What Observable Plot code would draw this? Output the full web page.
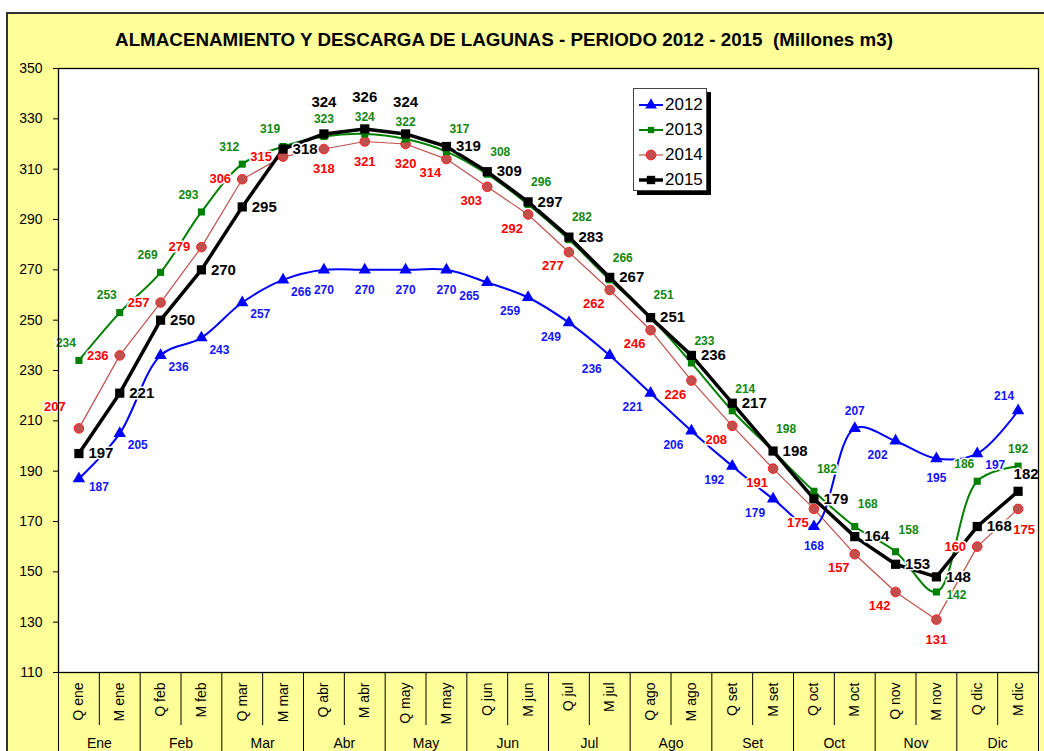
<!DOCTYPE html>
<html>
<head>
<meta charset="utf-8">
<script src="https://cdn.jsdelivr.net/npm/d3@7"></script>
<script src="https://cdn.jsdelivr.net/npm/@observablehq/plot@0.6"></script>
<style>
  body { margin: 0; background: #ffffff; font-family: "Liberation Sans", Arial, sans-serif; }
  #wrap { position: relative; width: 1044px; height: 751px; overflow: hidden; }
  #bg { position: absolute; left: 6px; top: 12px; width: 1060px; height: 760px; background: #ffff99;
        border-left: 2px solid #333; border-top: 2px solid #333; }
  #title { position: absolute; left: 0; width: 1008px; top: 29px; text-align: center;
           font-weight: bold; font-size: 18.8px; color: #000; white-space: pre; }
  #chart { position: absolute; left: 0; top: 0; }
  #legend { position: absolute; left: 633px; top: 88px; width: 74px; height: 103px; background: #fff;
            border: 1px solid #444; box-shadow: 4px 4px 0 #000; box-sizing: border-box; padding-top: 3px; }
  .item { display: flex; align-items: center; height: 25px; font-size: 17px; color: #000; }
  .item svg { margin-left: 5px; margin-right: 2px; }
</style>
</head>
<body>
<div id="wrap">
  <div id="bg"></div>
  <div id="chart"></div>
  <div id="title">ALMACENAMIENTO Y DESCARGA DE LAGUNAS - PERIODO 2012 - 2015  (Millones m3)</div>
  <div id="legend"></div>
</div>
<script>
// ---- data ----
const categories = ["Q ene","M ene","Q feb","M feb","Q mar","M mar","Q abr","M abr","Q may","M may","Q jun","M jun",
                    "Q jul","M jul","Q ago","M ago","Q set","M set","Q oct","M oct","Q nov","M nov","Q dic","M dic"];
const months = ["Ene","Feb","Mar","Abr","May","Jun","Jul","Ago","Set","Oct","Nov","Dic"];
const years = ["2012","2013","2014","2015"];
const v2012 = [187,205,236,243,257,266,270,270,270,270,265,259,249,236,221,206,192,179,168,207,202,195,197,214];
const v2013 = [234,253,269,293,312,319,323,324,322,317,308,296,282,266,251,233,214,198,182,168,158,142,186,192];
const v2014 = [207,236,257,279,306,315,318,321,320,314,303,292,277,262,246,226,208,191,175,157,142,131,160,175];
const v2015 = [197,221,250,270,295,318,324,326,324,319,309,297,283,267,251,236,217,198,179,164,153,148,168,182];
const yTicks = [110,130,150,170,190,210,230,250,270,290,310,330,350];

// label placement group derived from the shape of each series (above/below/side of the curve)
function group(vals, i) {
  const n = vals.length;
  if (i === 0) return "first";
  if (i === n - 1) return "last";
  const d = vals[i + 1] - vals[i - 1];
  if (vals[i] > vals[i - 1] && vals[i] > vals[i + 1] && Math.abs(d) >= 10) return "peak";
  if (vals[i] < vals[i - 1] && vals[i] < vals[i + 1] && Math.abs(d) >= 10) return "low";
  if (Math.abs(d) < 10) return "flat";
  return d > 0 ? "rise" : "fall";
}
const rows = vals => vals.map((v, i) => ({pos: i + 0.5, v, grp: group(vals, i)}));
const r2012 = rows(v2012), r2013 = rows(v2013), r2014 = rows(v2014), r2015 = rows(v2015);

const halo = {stroke: "white", strokeWidth: 3, paintOrder: "stroke", fontWeight: "bold"};
function labels(data, offsets, common) {
  return Object.entries(offsets).map(([g, off]) =>
    Plot.text(data.filter(d => d.grp === g), {x: "pos", y: "v", text: "v", ...halo, ...common, ...off}));
}
const off2012 = {first: {dx: 20, dy: 8}, rise: {dx: 18, dy: 12}, fall: {dx: -18, dy: 14}, flat: {dx: 0, dy: 20},
                 peak: {dx: 0, dy: -17}, low: {dx: 0, dy: 20}, last: {dx: -14, dy: -15}};
const off2013 = {first: {dx: -13, dy: -17}, rise: {dx: -13, dy: -17}, fall: {dx: 13, dy: -22}, flat: {dx: 0, dy: -17},
                 peak: {dx: 0, dy: -17}, low: {dx: 20, dy: 3}, last: {dx: 0, dy: -17}};
const off2014 = {first: {dx: -24, dy: -22}, rise: {dx: -22, dy: 0}, fall: {dx: -16, dy: 14}, flat: {dx: 0, dy: 20},
                 peak: {dx: 0, dy: 20}, low: {dx: 0, dy: 20}, last: {dx: 6, dy: 21}};
const off2015 = {first: {dx: 22, dy: 0}, rise: {dx: 22, dy: 0}, fall: {dx: 22, dy: 0}, flat: {dx: 0, dy: -32},
                 peak: {dx: 0, dy: -32}, low: {dx: 22, dy: 0}, last: {dx: 8, dy: -17}};

const chart = Plot.plot({
  width: 1044, height: 751,
  marginLeft: 58, marginRight: 6, marginTop: 68, marginBottom: 79,
  style: {background: "transparent", fontFamily: "'Liberation Sans', Arial, sans-serif", color: "#000", overflow: "visible"},
  x: {type: "linear", domain: [0, 24], axis: null},
  y: {domain: [110, 350], axis: null},
  marks: [
    Plot.frame({fill: "white"}),
    Plot.axisY({ticks: yTicks, tickSize: 5, tickPadding: 11, fontSize: 14, label: null, stroke: "#000"}),
    // separators inside a month
    Plot.axisX({ticks: d3.range(1, 24, 2), tickSize: 53, tickFormat: () => "", label: null, stroke: "#000"}),
    // month boundaries
    Plot.axisX({ticks: d3.range(0, 25, 2), tickSize: 80, tickFormat: () => "", label: null, stroke: "#000"}),
    // category labels
    Plot.axisX({ticks: categories.map((_, i) => i + 0.5), tickSize: 0, tickPadding: 10, tickRotate: -90,
                tickFormat: d => categories[Math.floor(d)], fontSize: 14, label: null}),
    // month labels
    Plot.axisX({ticks: months.map((_, i) => 2 * i + 1), tickSize: 0, tickPadding: 66,
                tickFormat: d => months[(d - 1) / 2], fontSize: 14, label: null}),
    // series lines
    Plot.line(r2014, {x: "pos", y: "v", stroke: "#c0504d", strokeWidth: 1.2}),
    Plot.line(r2012, {x: "pos", y: "v", stroke: "#0000ff", strokeWidth: 2, curve: "catmull-rom"}),
    Plot.line(r2013, {x: "pos", y: "v", stroke: "#008000", strokeWidth: 2, curve: "catmull-rom"}),
    Plot.line(r2015, {x: "pos", y: "v", stroke: "#000000", strokeWidth: 3.5}),
    // markers
    Plot.dot(r2014, {x: "pos", y: "v", r: 4.8, fill: "#c0504d", stroke: "#ff2020", strokeWidth: 1}),
    Plot.dot(r2012, {x: "pos", y: "v", symbol: "triangle", r: 4.6, fill: "#0000ff"}),
    Plot.dot(r2013, {x: "pos", y: "v", symbol: "square", r: 4, fill: "#008000"}),
    Plot.dot(r2015, {x: "pos", y: "v", symbol: "square", r: 5.2, fill: "#000000"}),
    // value labels
    ...labels(r2012, off2012, {fill: "#1414ff", fontSize: 12}),
    ...labels(r2013, off2013, {fill: "#118811", fontSize: 12}),
    ...labels(r2014, off2014, {fill: "#ff0000", fontSize: 13}),
    ...labels(r2015, off2015, {fill: "#000000", fontSize: 15}),
    Plot.frame({stroke: "#000", strokeWidth: 1.3})
  ]
});
document.getElementById("chart").appendChild(chart);

// ---- legend ----
const legendDefs = [
  {year: years[0], color: "#0000ff", sym: d3.symbolTriangle, size: 60, fill: "#0000ff", stroke: "none", lw: 2},
  {year: years[1], color: "#008000", sym: d3.symbolSquare, size: 40, fill: "#008000", stroke: "none", lw: 2},
  {year: years[2], color: "#c0504d", sym: d3.symbolCircle, size: 75, fill: "#c0504d", stroke: "#ff2020", lw: 1.2},
  {year: years[3], color: "#000000", sym: d3.symbolSquare, size: 70, fill: "#000000", stroke: "none", lw: 3.5}
];
const legend = document.getElementById("legend");
legendDefs.forEach(d => {
  const item = document.createElement("div");
  item.className = "item";
  const svg = d3.create("svg").attr("width", 24).attr("height", 14);
  svg.append("line").attr("x1", 0).attr("x2", 24).attr("y1", 7).attr("y2", 7)
     .attr("stroke", d.color).attr("stroke-width", d.lw);
  svg.append("path").attr("d", d3.symbol(d.sym, d.size)()).attr("transform", "translate(12,7)")
     .attr("fill", d.fill).attr("stroke", d.stroke);
  item.appendChild(svg.node());
  const span = document.createElement("span");
  span.textContent = d.year;
  item.appendChild(span);
  legend.appendChild(item);
});
</script>
</body>
</html>
